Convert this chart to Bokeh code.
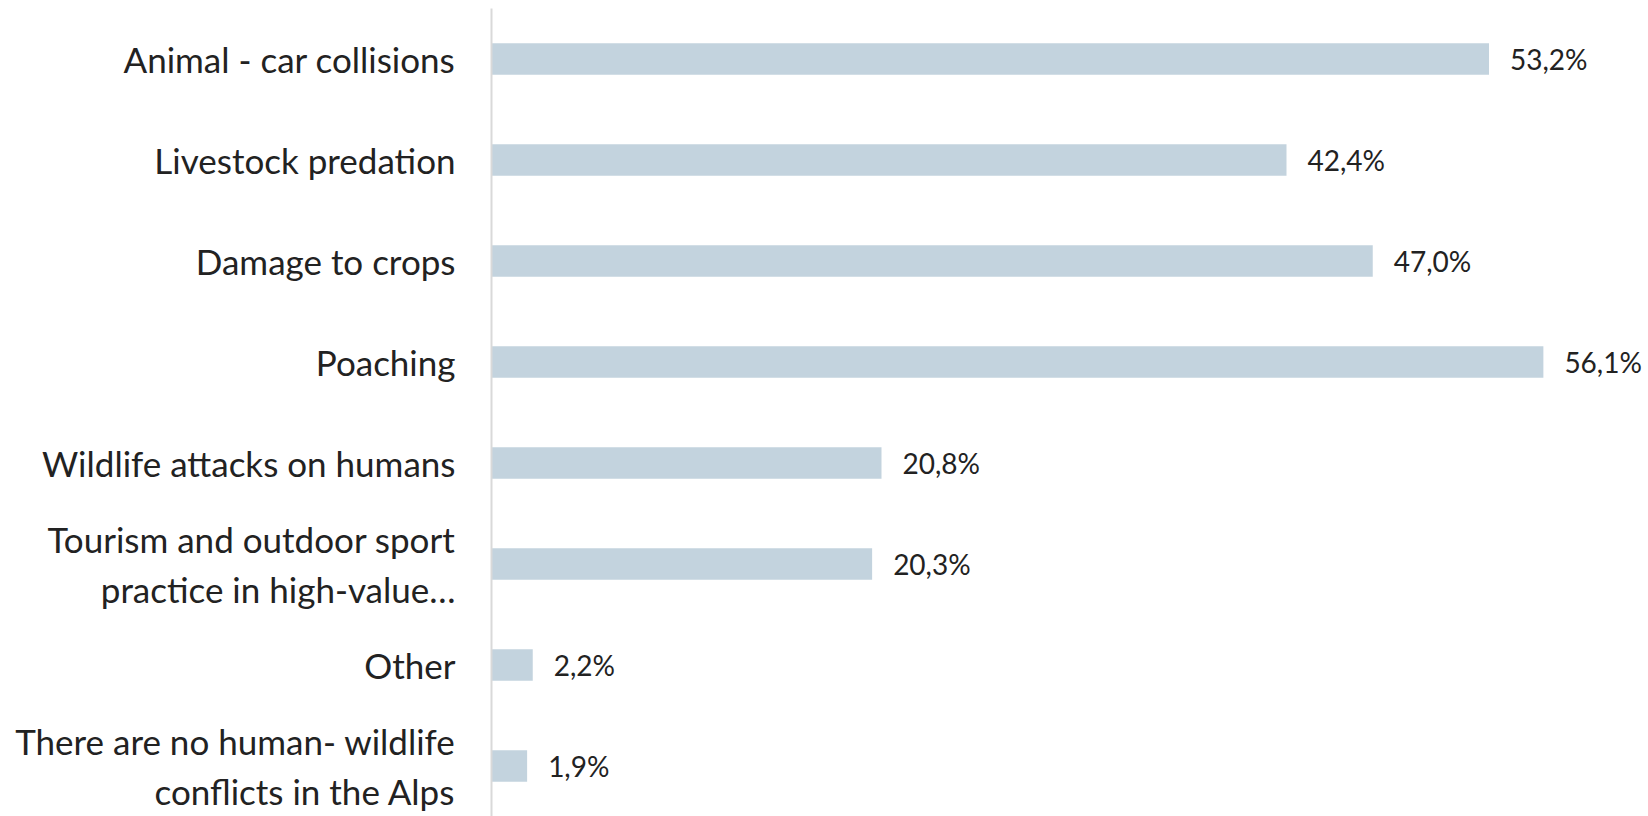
from bokeh.plotting import figure
from bokeh.models import FactorRange, ColumnDataSource
from bokeh.core.properties import value
from bokeh.embed import file_html
from bokeh.resources import INLINE

categories = [
    "Animal - car collisions",
    "Livestock predation",
    "Damage to crops",
    "Poaching",
    "Wildlife attacks on humans",
    "Tourism and outdoor sport\npractice in high-value…",
    "Other",
    "There are no human- wildlife\nconflicts in the Alps",
]
values = [53.2, 42.4, 47.0, 56.1, 20.8, 20.3, 2.2, 1.9]
value_labels = [f"{v:.1f}".replace(".", ",") + "%" for v in values]

src = ColumnDataSource(dict(cat=categories, val=values, lab=value_labels))

W, H = 1648, 816
LEFT = 491
PX_PER_UNIT = 18.75
x_end = (W - LEFT) / PX_PER_UNIT

p = figure(
    width=W, height=H,
    y_range=FactorRange(*reversed(categories), range_padding=0),
    x_range=(0, x_end),
    output_backend="svg", toolbar_location=None,
    min_border_left=LEFT, min_border_right=0, min_border_top=8, min_border_bottom=0,
)
p.outline_line_color = None
p.background_fill_color = "white"
p.border_fill_color = "white"
p.xgrid.visible = False
p.ygrid.visible = False
p.xaxis.visible = False

p.hbar(y="cat", right="val", left=0, height=0.31, source=src,
       fill_color="#C3D3DE", line_color=None)

p.text(x="val", y="cat", text="lab", source=src, x_offset=21,
       text_baseline="middle", text_align="left",
       text_font=value("Lato"), text_font_size="28px", text_color="#222222")

yax = p.yaxis[0]
yax.major_label_text_font = "Lato"
yax.major_label_text_font_size = "35px"
yax.major_label_text_color = "#222222"
yax.major_tick_line_color = None
yax.minor_tick_line_color = None
yax.major_tick_out = 0
yax.major_tick_in = 0
yax.major_label_standoff = 36
yax.axis_line_color = "#D9D9D9"
yax.axis_line_width = 2

open("out.html", "w").write(file_html(p, INLINE))
